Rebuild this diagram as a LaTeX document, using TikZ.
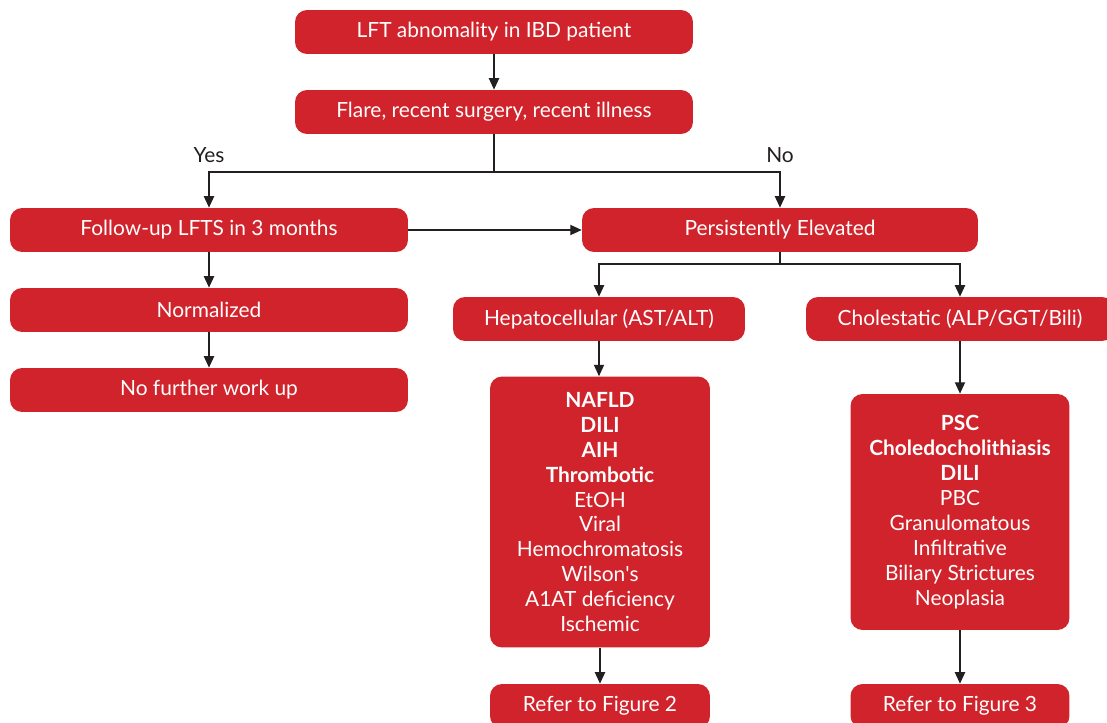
\documentclass[tikz,border=0pt]{standalone}
\usepackage{fontspec}
\setmainfont{Lato}
\usetikzlibrary{arrows.meta}

\definecolor{boxred}{RGB}{208,35,43}
\definecolor{linegray}{RGB}{35,31,32}

\tikzset{
	redbox/.style={fill=boxred, text=white, rounded corners=12pt*0.5669, inner sep=0pt,
		font=\fontsize{11.9}{14.2}\selectfont, align=center},
	flow/.style={draw=linegray, line width=0.75pt, -{Triangle[length=6.5pt, width=5.8pt]}},
	link/.style={draw=linegray, line width=0.75pt},
	answer/.style={text=linegray, font=\fontsize{11.9}{13}\selectfont}
}

\begin{document}
\begin{tikzpicture}[x=0.02cm, y=-0.02cm]
	\useasboundingbox (0,0) rectangle (1107,723);

	\node [redbox, minimum width=7.96cm, minimum height=0.88cm] (start) at (494, 32) {LFT abnomality in IBD patient};
	\node [redbox, minimum width=7.96cm, minimum height=0.88cm] (flare) at (494, 112) {Flare, recent surgery, recent illness};
	\node [redbox, minimum width=7.96cm, minimum height=0.88cm] (followup) at (209, 230) {Follow-up LFTS in 3 months};
	\node [redbox, minimum width=7.92cm, minimum height=0.88cm] (persist) at (780, 230) {Persistently Elevated};
	\node [redbox, minimum width=7.96cm, minimum height=0.88cm] (normal) at (209, 310) {Normalized};
	\node [redbox, minimum width=7.96cm, minimum height=0.88cm] (nowork) at (209, 390) {No further work up};
	\node [redbox, minimum width=5.84cm, minimum height=0.88cm] (hepato) at (599, 319) {Hepatocellular (AST/ALT)};
	\node [redbox, minimum width=6.16cm, minimum height=0.88cm] (chole) at (960, 319) {Cholestatic (ALP/GGT/Bili)};

	\node [redbox, minimum width=4.4cm, minimum height=5.42cm] (hepatolist) at (600, 512)
		{\textbf{NAFLD}\\ \textbf{DILI}\\ \textbf{AIH}\\ \textbf{Thrombotic}\\ EtOH\\ Viral\\
		 Hemochromatosis\\ Wilson\textquotesingle s\\ A1AT deficiency\\ Ischemic};
	\node [redbox, minimum width=4.38cm, minimum height=4.72cm] (cholelist) at (960, 512)
		{\textbf{PSC}\\ \textbf{Choledocholithiasis}\\ \textbf{DILI}\\ PBC\\ Granulomatous\\
		 Infiltrative\\ Biliary Strictures\\ Neoplasia};

	\node [redbox, minimum width=4.4cm, minimum height=0.88cm] (refertwo) at (600, 706) {Refer to Figure 2};
	\node [redbox, minimum width=4.38cm, minimum height=0.88cm] (referthree) at (960, 706) {Refer to Figure 3};

	\coordinate (split) at (494, 172);
	\coordinate (fork) at (780, 264);

	\draw [flow] (start) -- (flare);
	\draw [link] (flare) -- (split);
	\draw [flow] (split) -| (followup) node [answer, pos=0.5, above=1.5pt] {Yes};
	\draw [flow] (split) -| (persist) node [answer, pos=0.5, above=1.5pt] {No};
	\draw [flow] (followup) -- (persist);
	\draw [flow] (followup) -- (normal);
	\draw [flow] (normal) -- (nowork);
	\draw [link] (persist) -- (fork);
	\draw [flow] (fork) -| (hepato);
	\draw [flow] (fork) -| (chole);
	\draw [flow] (hepato) -- (hepato |- hepatolist.north);
	\draw [flow] (chole) -- (chole |- cholelist.north);
	\draw [flow] (hepatolist.south) -- (refertwo.north);
	\draw [flow] (cholelist.south) -- (referthree.north);
\end{tikzpicture}
\end{document}
